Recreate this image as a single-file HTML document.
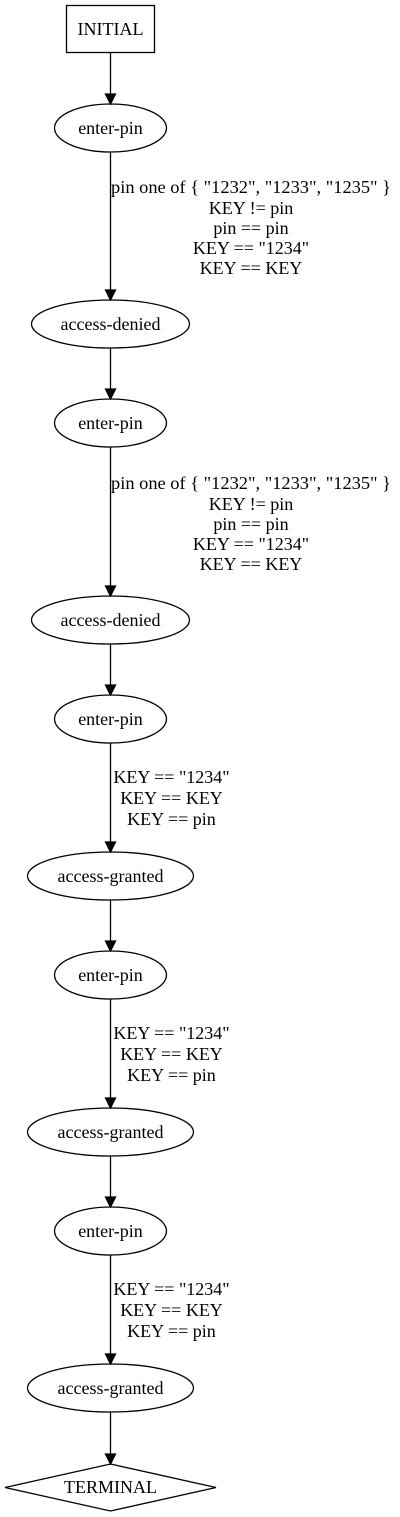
<!DOCTYPE html>
<html><head><meta charset="utf-8"><style>
html,body{margin:0;padding:0;background:#fff;}
svg{display:block;}
text{font-family:"Liberation Serif",serif;font-size:18px;fill:#000;}
</style></head><body>
<svg width="400" height="1517" viewBox="0 0 400 1517" xmlns="http://www.w3.org/2000/svg">
<g fill="none" stroke="#000" stroke-width="1.3">
<rect x="66.5" y="5.5" width="88" height="47"/>
<ellipse cx="110.5" cy="128" rx="56" ry="24"/>
<ellipse cx="110.5" cy="324" rx="79" ry="24"/>
<ellipse cx="110.5" cy="423" rx="56" ry="24"/>
<ellipse cx="110.5" cy="620" rx="79" ry="24"/>
<ellipse cx="110.5" cy="719" rx="56" ry="24"/>
<ellipse cx="110.5" cy="876" rx="83" ry="24"/>
<ellipse cx="110.5" cy="975" rx="56" ry="24"/>
<ellipse cx="110.5" cy="1132" rx="83" ry="24"/>
<ellipse cx="110.5" cy="1231" rx="56" ry="24"/>
<ellipse cx="110.5" cy="1388" rx="83" ry="24"/>
<polygon points="110.5,1464 216,1487.5 110.5,1511 5,1487.5"/>
<path d="M110.5 52V94M110.5 152V290M110.5 348V389M110.5 447V586M110.5 644V685M110.5 743V842M110.5 900V941M110.5 999V1098M110.5 1156V1197M110.5 1255V1354M110.5 1412V1454"/>
</g>
<g fill="#000" stroke="#000" stroke-width="1.3">
<polygon points="105.5,94 115.5,94 110.5,104"/>
<polygon points="105.5,290 115.5,290 110.5,300"/>
<polygon points="105.5,389 115.5,389 110.5,399"/>
<polygon points="105.5,586 115.5,586 110.5,596"/>
<polygon points="105.5,685 115.5,685 110.5,695"/>
<polygon points="105.5,842 115.5,842 110.5,852"/>
<polygon points="105.5,941 115.5,941 110.5,951"/>
<polygon points="105.5,1098 115.5,1098 110.5,1108"/>
<polygon points="105.5,1197 115.5,1197 110.5,1207"/>
<polygon points="105.5,1354 115.5,1354 110.5,1364"/>
<polygon points="105.5,1454 115.5,1454 110.5,1464"/>
</g>
<g text-anchor="middle">
<text x="110.5" y="35">INITIAL</text>
<text x="110.5" y="134">enter-pin</text>
<text x="110.5" y="330">access-denied</text>
<text x="110.5" y="429">enter-pin</text>
<text x="110.5" y="626">access-denied</text>
<text x="110.5" y="725">enter-pin</text>
<text x="110.5" y="882">access-granted</text>
<text x="110.5" y="981">enter-pin</text>
<text x="110.5" y="1138">access-granted</text>
<text x="110.5" y="1237">enter-pin</text>
<text x="110.5" y="1394">access-granted</text>
<text x="110.5" y="1493">TERMINAL</text>

<text x="251" y="193" textLength="280" lengthAdjust="spacingAndGlyphs">pin one of { "1232", "1233", "1235" }</text>
<text x="251" y="214">KEY != pin</text>
<text x="251" y="234">pin == pin</text>
<text x="251" y="254">KEY == "1234"</text>
<text x="251" y="274">KEY == KEY</text>

<text x="251" y="489" textLength="280" lengthAdjust="spacingAndGlyphs">pin one of { "1232", "1233", "1235" }</text>
<text x="251" y="510">KEY != pin</text>
<text x="251" y="530">pin == pin</text>
<text x="251" y="550">KEY == "1234"</text>
<text x="251" y="570">KEY == KEY</text>

<text x="171.5" y="783">KEY == "1234"</text>
<text x="171.5" y="804">KEY == KEY</text>
<text x="171.5" y="825">KEY == pin</text>

<text x="171.5" y="1039">KEY == "1234"</text>
<text x="171.5" y="1060">KEY == KEY</text>
<text x="171.5" y="1081">KEY == pin</text>

<text x="171.5" y="1295">KEY == "1234"</text>
<text x="171.5" y="1316">KEY == KEY</text>
<text x="171.5" y="1337">KEY == pin</text>
</g>
</svg>
</body></html>
